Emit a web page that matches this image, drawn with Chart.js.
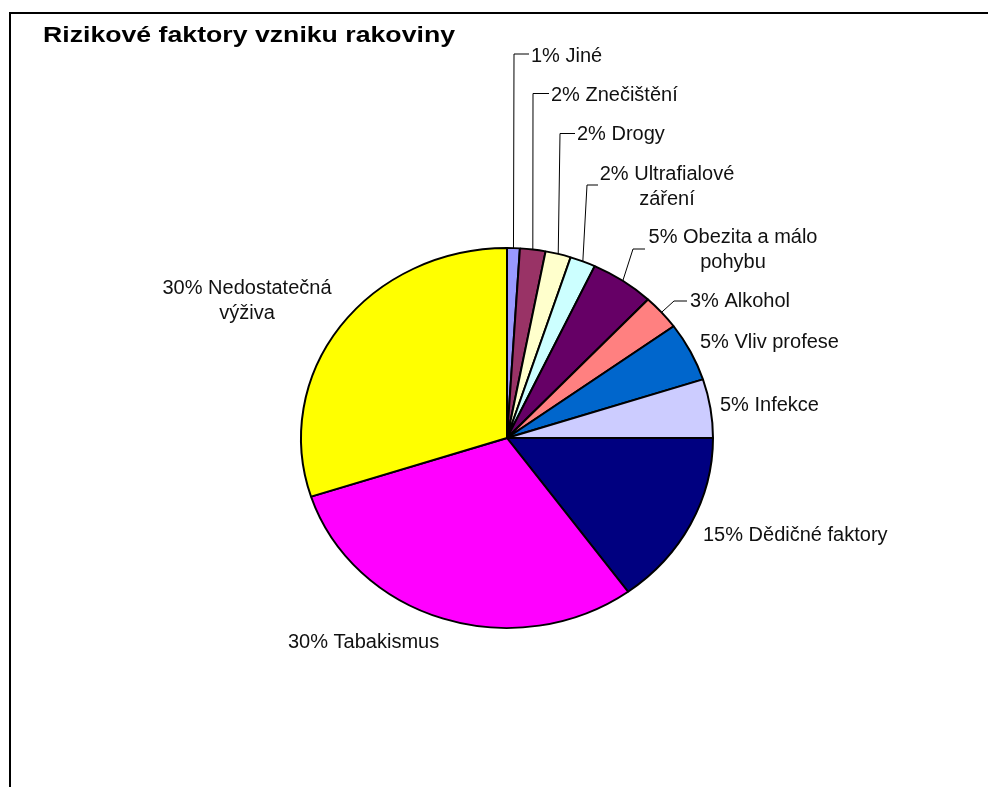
<!DOCTYPE html>
<html lang="cs">
<head>
<meta charset="utf-8">
<title>Rizikové faktory vzniku rakoviny</title>
<script src="https://cdn.jsdelivr.net/npm/chart.js@4/dist/chart.umd.min.js"></script>
<style>
  html, body { margin: 0; padding: 0; background: #fff; }
  #graf { display: block; }
</style>
</head>
<body>
<canvas id="graf" width="988" height="787"></canvas>
<script>
  // Data grafu
  var TITULEK = 'Rizikové faktory vzniku rakoviny';
  var KATEGORIE = ['Jiné', 'Znečištění', 'Drogy', 'Ultrafialové záření', 'Obezita a málo pohybu',
    'Alkohol', 'Vliv profese', 'Infekce', 'Dědičné faktory', 'Tabakismus', 'Nedostatečná výživa'];
  var PROCENTA = [1, 2, 2, 2, 5, 3, 5, 5, 15, 30, 30];
  var BARVY = ['#9999FF', '#993366', '#FFFFCC', '#CCFFFF', '#660066', '#FF8080',
    '#0066CC', '#CCCCFF', '#000080', '#FF00FF', '#FFFF00'];

  // Rozmery kolace (v puvodnim obrazku je mirne zplostely)
  var RX = 206, RY = 190;

  // Umisteni popisku (text, lomeni vodici cary)
  var POPISKY = [
    { x: 531, y: 61.5, align: 'left', elbow: [514, 54], end: 529 },
    { x: 551, y: 101, align: 'left', elbow: [533, 93.5], end: 549 },
    { x: 577, y: 140, align: 'left', elbow: [560, 133.5], end: 575 },
    { x: 667, y: 180, align: 'center', slov: 1, elbow: [587, 185], end: 598 },
    { x: 733, y: 243, align: 'center', slov: 3, elbow: [633, 249], end: 645 },
    { x: 690, y: 307, align: 'left', elbow: [674, 301], end: 687 },
    { x: 700, y: 347.5, align: 'left' },
    { x: 720, y: 410.5, align: 'left' },
    { x: 703, y: 541, align: 'left' },
    { x: 288, y: 648, align: 'left' },
    { x: 247, y: 294, align: 'center', slov: 1 }
  ];

  // Zplosteni kolace svisle kolem stredu
  var zplosteni = {
    id: 'zplosteni',
    beforeDatasetsDraw: function (chart) {
      var arc = chart.getDatasetMeta(0).data[0];
      var ctx = chart.ctx;
      ctx.save();
      ctx.translate(arc.x, arc.y);
      ctx.scale(1, RY / RX);
      ctx.translate(-arc.x, -arc.y);
    },
    afterDatasetsDraw: function (chart) {
      chart.ctx.restore();
    }
  };

  // Ramecek, titulek, popisky a vodici cary
  var popisky = {
    id: 'popisky',
    beforeDraw: function (chart) {
      var ctx = chart.ctx;
      ctx.save();
      ctx.fillStyle = '#fff';
      ctx.fillRect(0, 0, chart.width, chart.height);
      ctx.strokeStyle = '#000';
      ctx.lineWidth = 2;
      ctx.strokeRect(10, 13, 1200, 1200);
      ctx.restore();
    },
    afterDraw: function (chart) {
      var ctx = chart.ctx;
      var meta = chart.getDatasetMeta(0);
      ctx.save();

      // titulek je v originale roztazeny do sirky
      ctx.font = 'bold 21.5px "Liberation Sans", Arial, sans-serif';
      ctx.fillStyle = '#000';
      ctx.textBaseline = 'alphabetic';
      ctx.textAlign = 'left';
      var w = ctx.measureText(TITULEK).width;
      ctx.save();
      ctx.translate(43, 42);
      ctx.scale(412 / w, 1);
      ctx.fillText(TITULEK, 0, 0);
      ctx.restore();

      ctx.font = '20px "Liberation Sans", Arial, sans-serif';
      ctx.fillStyle = '#111';
      ctx.strokeStyle = '#000';
      ctx.lineWidth = 1;

      meta.data.forEach(function (arc, i) {
        var p = POPISKY[i];
        var text = PROCENTA[i] + '% ' + KATEGORIE[i];
        var radky = [text];
        if (p.slov) {
          var slova = text.split(' ');
          radky = [slova.slice(0, p.slov + 1).join(' '), slova.slice(p.slov + 1).join(' ')];
        }
        ctx.textAlign = p.align;
        radky.forEach(function (r, j) {
          ctx.fillText(r, p.x, p.y + j * 25);
        });

        if (p.elbow) {
          var stred = (arc.startAngle + arc.endAngle) / 2;
          var sx = arc.x + arc.outerRadius * Math.cos(stred);
          var sy = arc.y + arc.outerRadius * Math.sin(stred) * RY / RX;
          ctx.beginPath();
          ctx.moveTo(sx, sy);
          ctx.lineTo(p.elbow[0], p.elbow[1]);
          ctx.lineTo(p.end, p.elbow[1]);
          ctx.stroke();
        }
      });
      ctx.restore();
    }
  };

  var graf = new Chart(document.getElementById('graf'), {
    type: 'pie',
    data: {
      labels: KATEGORIE,
      datasets: [{
        data: PROCENTA,
        backgroundColor: BARVY,
        borderColor: '#000',
        borderWidth: 2
      }]
    },
    options: {
      responsive: false,
      animation: false,
      events: [],
      radius: RX,
      layout: { padding: { left: 300, right: 274, top: 231, bottom: 142 } },
      plugins: {
        legend: { display: false },
        title: { display: false },
        tooltip: { enabled: false }
      }
    },
    plugins: [zplosteni, popisky]
  });
</script>
</body>
</html>
